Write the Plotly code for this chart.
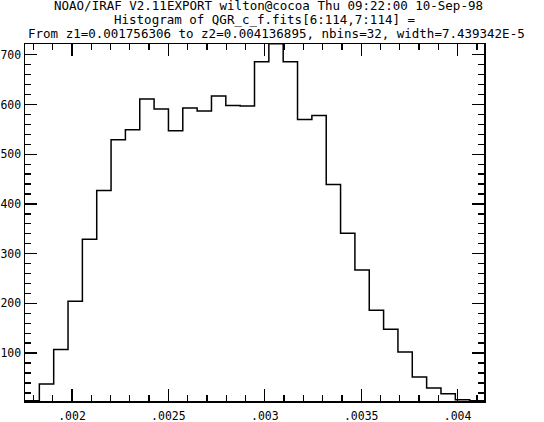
import plotly.graph_objects as go

# ---- data ----
z1 = 0.001756306
z2 = 0.004136895
nbins = 32
bin_width = 7.439342e-5
counts = [4, 38, 107, 204, 329, 427, 529, 549, 611, 591, 547, 593, 587, 617, 598, 597,
          686, 722, 686, 570, 578, 439, 341, 267, 186, 148, 102, 52, 30, 18, 6, 4]

x_tickvals = [0.002, 0.0025, 0.003, 0.0035, 0.004]
x_ticktext = [".002", ".0025", ".003", ".0035", ".004"]
y_tickvals = [100, 200, 300, 400, 500, 600, 700]
y_ticktext = ["100", "200", "300", "400", "500", "600", "700"]

title_lines = [
    "NOAO/IRAF V2.11EXPORT wilton@cocoa Thu 09:22:00 10-Sep-98",
    "Histogram of QGR_c_f.fits[6:114,7:114] =",
    "From z1=0.001756306 to z2=0.004136895, nbins=32, width=7.439342E-5",
]

# step outline: bin edges with counts (hv shape)
edges = [z1 + i * bin_width for i in range(nbins + 1)]
xs = edges
ys = counts + [counts[-1]]

FONT = "DejaVu Sans Mono"
W, H = 544, 422
ML, MR, MT, MB = 25, 60, 44, 21
PW = W - ML - MR

fig = go.Figure()
fig.add_trace(go.Scatter(x=xs, y=ys, mode="lines", line=dict(shape="hv", color="black", width=1.5),
                         hoverinfo="skip", showlegend=False))

axis_common = dict(showline=True, linecolor="black", linewidth=1.5, mirror="ticks",
                   ticks="inside", tickcolor="black", tickwidth=1.3, ticklen=12,
                   showgrid=False, zeroline=False, automargin=False,
                   tickfont=dict(family=FONT, size=11.5, color="black"))

fig.update_xaxes(range=[z1, z2], tickmode="array", tickvals=x_tickvals, ticktext=x_ticktext,
                 ticklabelstandoff=4,
                 minor=dict(dtick=0.0001, tick0=0, ticks="inside", ticklen=6, tickwidth=1.3,
                            tickcolor="black", showgrid=False),
                 **axis_common)
fig.update_yaxes(range=[3.6, 721.7], tickmode="array", tickvals=y_tickvals, ticktext=y_ticktext,
                 minor=dict(dtick=20, tick0=0, ticks="inside", ticklen=6, tickwidth=1.3,
                            tickcolor="black", showgrid=False),
                 **axis_common)

centers_px = [268, 264.5, 276]
cap_centers = [5.5, 19, 33.5]
for txt, cx, cy in zip(title_lines, centers_px, cap_centers):
    fig.add_annotation(text=txt, xref="paper", yref="paper", x=(cx - ML) / PW, y=1,
                       xanchor="center", yanchor="middle", yshift=MT - cy, showarrow=False,
                       borderpad=0, font=dict(family=FONT, size=12.5, color="black"))

fig.update_layout(width=W, height=H, margin=dict(l=ML, r=MR, t=MT, b=MB, autoexpand=False),
                  paper_bgcolor="white", plot_bgcolor="white", hovermode=False)

fig.write_html("out.html", config={"displayModeBar": False, "staticPlot": True},
               post_script="document.body.style.margin='0';document.body.style.overflow='hidden';")
